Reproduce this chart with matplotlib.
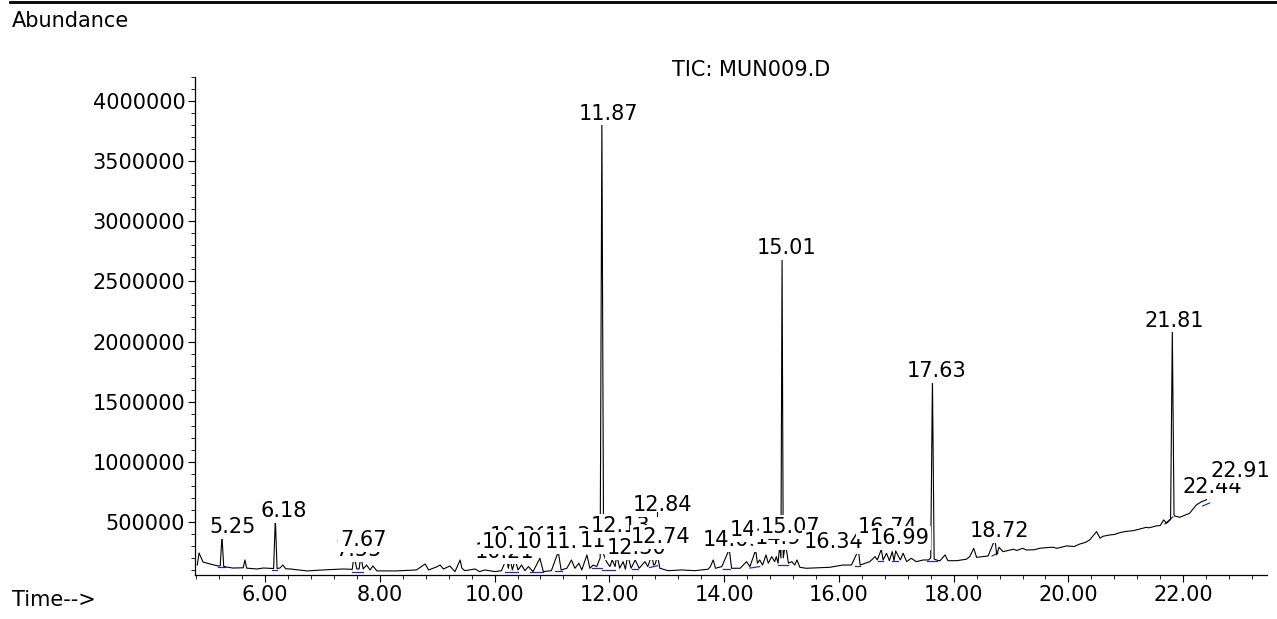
import matplotlib
matplotlib.use('Agg')
import matplotlib.pyplot as plt
from matplotlib.ticker import MultipleLocator, FormatStrFormatter
from matplotlib.lines import Line2D

plt.rcParams['font.family'] = ['DejaVu Sans']

# ---- TIC trace (time in min, abundance in counts)
time = [4.82, 4.85, 4.92, 5.04, 5.18, 5.22, 5.25, 5.28, 5.32, 5.44, 5.62, 5.65, 5.68,
        5.86, 5.97, 6.15, 6.18, 6.21, 6.26, 6.31, 6.36, 6.44, 6.73, 7.01, 7.36, 7.52,
        7.55, 7.60, 7.64, 7.67, 7.71, 7.77, 7.83, 7.88, 7.95, 8.29, 8.64, 8.79, 8.85,
        8.99, 9.05, 9.11, 9.22, 9.31, 9.40, 9.43, 9.48, 9.66, 9.74, 9.83, 10.01, 10.12,
        10.21, 10.24, 10.27, 10.31, 10.36, 10.41, 10.47, 10.53, 10.59, 10.67, 10.79,
        10.85, 10.99, 11.11, 11.16, 11.26, 11.34, 11.40, 11.47, 11.52, 11.61, 11.66,
        11.72, 11.78, 11.84, 11.87, 11.90, 11.95, 12.01, 12.05, 12.10, 12.13, 12.18,
        12.24, 12.28, 12.32, 12.38, 12.45, 12.52, 12.62, 12.67, 12.74, 12.77, 12.80,
        12.84, 12.88, 12.91, 13.02, 13.26, 13.49, 13.72, 13.76, 13.81, 13.85, 13.96,
        14.09, 14.13, 14.28, 14.39, 14.45, 14.55, 14.58, 14.62, 14.67, 14.73, 14.77,
        14.83, 14.88, 14.91, 14.94, 14.97, 14.99, 15.01, 15.03, 15.07, 15.12, 15.18,
        15.23, 15.27, 15.32, 15.43, 15.67, 15.84, 16.07, 16.22, 16.34, 16.37, 16.54,
        16.63, 16.67, 16.74, 16.77, 16.83, 16.88, 16.93, 16.96, 16.99, 17.07, 17.12,
        17.18, 17.26, 17.35, 17.47, 17.56, 17.60, 17.63, 17.66, 17.70, 17.76, 17.85,
        17.90, 18.05, 18.22, 18.28, 18.35, 18.40, 18.60, 18.72, 18.75, 18.79, 18.86,
        19.04, 19.10, 19.20, 19.27, 19.40, 19.50, 19.60, 19.73, 19.80, 19.97, 20.10,
        20.20, 20.30, 20.37, 20.49, 20.55, 20.60, 20.72, 20.80, 20.90, 21.00, 21.13,
        21.20, 21.36, 21.40, 21.53, 21.60, 21.66, 21.71, 21.78, 21.81, 21.84, 21.85,
        21.94, 22.11, 22.23, 22.32, 22.40, 22.44, 22.58, 22.67]
abundance = [141e3, 241e3, 166e3, 150e3, 133e3, 135e3, 385e3, 130e3, 125e3, 116e3, 118e3,
             183e3, 115e3, 108e3, 116e3, 112e3, 530e3, 112e3, 116e3, 141e3, 110e3, 108e3,
             92e3, 100e3, 108e3, 105e3, 216e3, 108e3, 108e3, 216e3, 108e3, 141e3, 100e3,
             133e3, 92e3, 92e3, 100e3, 150e3, 100e3, 125e3, 141e3, 108e3, 133e3, 86e3,
             183e3, 116e3, 94e3, 108e3, 86e3, 100e3, 86e3, 94e3, 197e3, 114e3, 200e3,
             100e3, 183e3, 100e3, 141e3, 94e3, 128e3, 86e3, 197e3, 86e3, 94e3, 252e3,
             100e3, 114e3, 183e3, 114e3, 156e3, 100e3, 225e3, 114e3, 141e3, 128e3, 200e3,
             3820e3, 230e3, 169e3, 128e3, 183e3, 128e3, 225e3, 114e3, 169e3, 106e3, 225e3,
             114e3, 183e3, 114e3, 169e3, 128e3, 225e3, 141e3, 150e3, 220e3, 114e3, 110e3,
             94e3, 100e3, 94e3, 106e3, 128e3, 183e3, 114e3, 128e3, 272e3, 114e3, 114e3,
             169e3, 128e3, 266e3, 156e3, 183e3, 141e3, 225e3, 156e3, 211e3, 169e3, 211e3,
             156e3, 308e3, 200e3, 2712e3, 200e3, 322e3, 156e3, 169e3, 141e3, 183e3, 122e3,
             114e3, 119e3, 122e3, 141e3, 141e3, 266e3, 141e3, 169e3, 211e3, 183e3, 272e3,
             183e3, 239e3, 177e3, 252e3, 177e3, 258e3, 183e3, 239e3, 169e3, 197e3, 169e3,
             183e3, 183e3, 200e3, 1689e3, 190e3, 183e3, 175e3, 225e3, 177e3, 177e3, 189e3,
             211e3, 280e3, 205e3, 216e3, 355e3, 225e3, 289e3, 252e3, 272e3, 262e3, 280e3,
             266e3, 268e3, 280e3, 285e3, 289e3, 280e3, 300e3, 295e3, 316e3, 330e3, 350e3,
             419e3, 364e3, 380e3, 391e3, 395e3, 411e3, 420e3, 427e3, 435e3, 455e3, 450e3,
             466e3, 470e3, 516e3, 488e3, 520e3, 2097e3, 560e3, 549e3, 538e3, 571e3, 641e3,
             668e3, 682e3, 724e3, 730e3, 732e3]

# ---- integration baselines (blue)
bl_t0 = [5.18, 6.12, 7.51, 10.18, 10.62, 11.05, 11.70, 11.87, 12.40, 12.70, 13.98, 14.45,
         14.94, 16.28, 16.68, 16.92, 17.53, 18.67, 21.68, 22.34]
bl_y0 = [125e3, 100e3, 83e3, 86e3, 80e3, 90e3, 116e3, 100e3, 110e3, 120e3, 108e3, 116e3,
         141e3, 133e3, 175e3, 175e3, 177e3, 216e3, 483e3, 632e3]
bl_t1 = [5.30, 6.21, 7.71, 10.41, 10.85, 11.17, 11.87, 12.10, 12.50, 12.84, 14.10, 14.62,
         15.11, 16.37, 16.77, 17.03, 17.71, 18.77, 21.82, 22.46]
bl_y1 = [125e3, 100e3, 83e3, 86e3, 80e3, 90e3, 116e3, 100e3, 110e3, 135e3, 108e3, 128e3,
         141e3, 133e3, 175e3, 175e3, 177e3, 241e3, 541e3, 657e3]

# ---- peak labels and where the software placed them
peak_labels = ['5.25', '6.18', '7.55', '7.67', '10.21', '10.36', '10.27', '10.79', '11.34',
               '11.11', '11.61', '11.87', '12.13', '12.30', '12.74', '12.84', '14.09',
               '14.55', '14.97', '15.01', '15.07', '16.34', '16.74', '16.99', '17.63',
               '18.72', '21.81', '22.44', '22.91']
label_x = [5.43, 6.33, 7.62, 7.71, 10.18, 10.44, 10.30, 10.88, 11.40, 11.40, 12.01, 11.98,
           12.20, 12.48, 12.90, 12.93, 14.15, 14.62, 15.06, 15.09, 15.15, 15.90, 16.85,
           17.06, 17.71, 18.80, 21.85, 22.50, 22.99]
label_y = [458e3, 591e3, 266e3, 349e3, 250e3, 385e3, 333e3, 333e3, 385e3, 333e3, 341e3,
           3894e3, 466e3, 283e3, 374e3, 641e3, 349e3, 433e3, 366e3, 2779e3, 458e3, 333e3,
           458e3, 366e3, 1756e3, 424e3, 2172e3, 790e3, 924e3]

W, H = 1277, 619
fig = plt.figure(figsize=(W / 100, H / 100), dpi=100)
ax = fig.add_axes([195 / W, 1 - 575 / H, (1267 - 195) / W, (575 - 77) / H])

ax.plot(time, abundance, color='black', lw=0.8, zorder=2)
for i in range(len(bl_t0)):
    ax.plot([bl_t0[i], bl_t1[i]], [bl_y0[i], bl_y1[i]], color='#2a2ab8', lw=0.9, zorder=1.5)

ax.set_xlim(4.78, 23.46)
ax.set_ylim(58000, 4200000)
ax.spines['top'].set_visible(False)
ax.spines['right'].set_visible(False)
ax.spines['left'].set_linewidth(0.9)
ax.spines['bottom'].set_linewidth(0.9)

ax.xaxis.set_major_locator(MultipleLocator(2))
ax.xaxis.set_minor_locator(MultipleLocator(0.4))
ax.xaxis.set_major_formatter(FormatStrFormatter('%.2f'))
ax.yaxis.set_major_locator(MultipleLocator(500000))
ax.yaxis.set_minor_locator(MultipleLocator(100000))
ax.yaxis.set_major_formatter(FormatStrFormatter('%d'))
ax.tick_params(which='major', length=5, width=0.8, labelsize=15, pad=2)
ax.tick_params(which='minor', length=3, width=0.6)

# labels drawn in time order, later ones sit on top of earlier ones
for i, txt in enumerate(peak_labels):
    ax.text(label_x[i], label_y[i], txt, ha='center', va='center', fontsize=15,
            bbox=dict(boxstyle='square,pad=0.08', fc='white', ec='none'),
            zorder=5 + i * 0.01, clip_on=False)
# leader tick under the bumped 12.84 label
ax.plot([12.83, 12.83], [545e3, 585e3], color='black', lw=0.8, zorder=6)

fig.text(751 / W, 1 - 70 / H, 'TIC: MUN009.D', ha='center', va='center', fontsize=15)
fig.text(12 / W, 1 - 21 / H, 'Abundance', ha='left', va='center', fontsize=15)
fig.text(12 / W, 1 - 600 / H, 'Time-->', ha='left', va='center', fontsize=15)
fig.add_artist(Line2D([10 / W, 1], [1 - 2 / H, 1 - 2 / H], color='black', lw=2,
                      transform=fig.transFigure))

fig.savefig('out.png', dpi=100)
